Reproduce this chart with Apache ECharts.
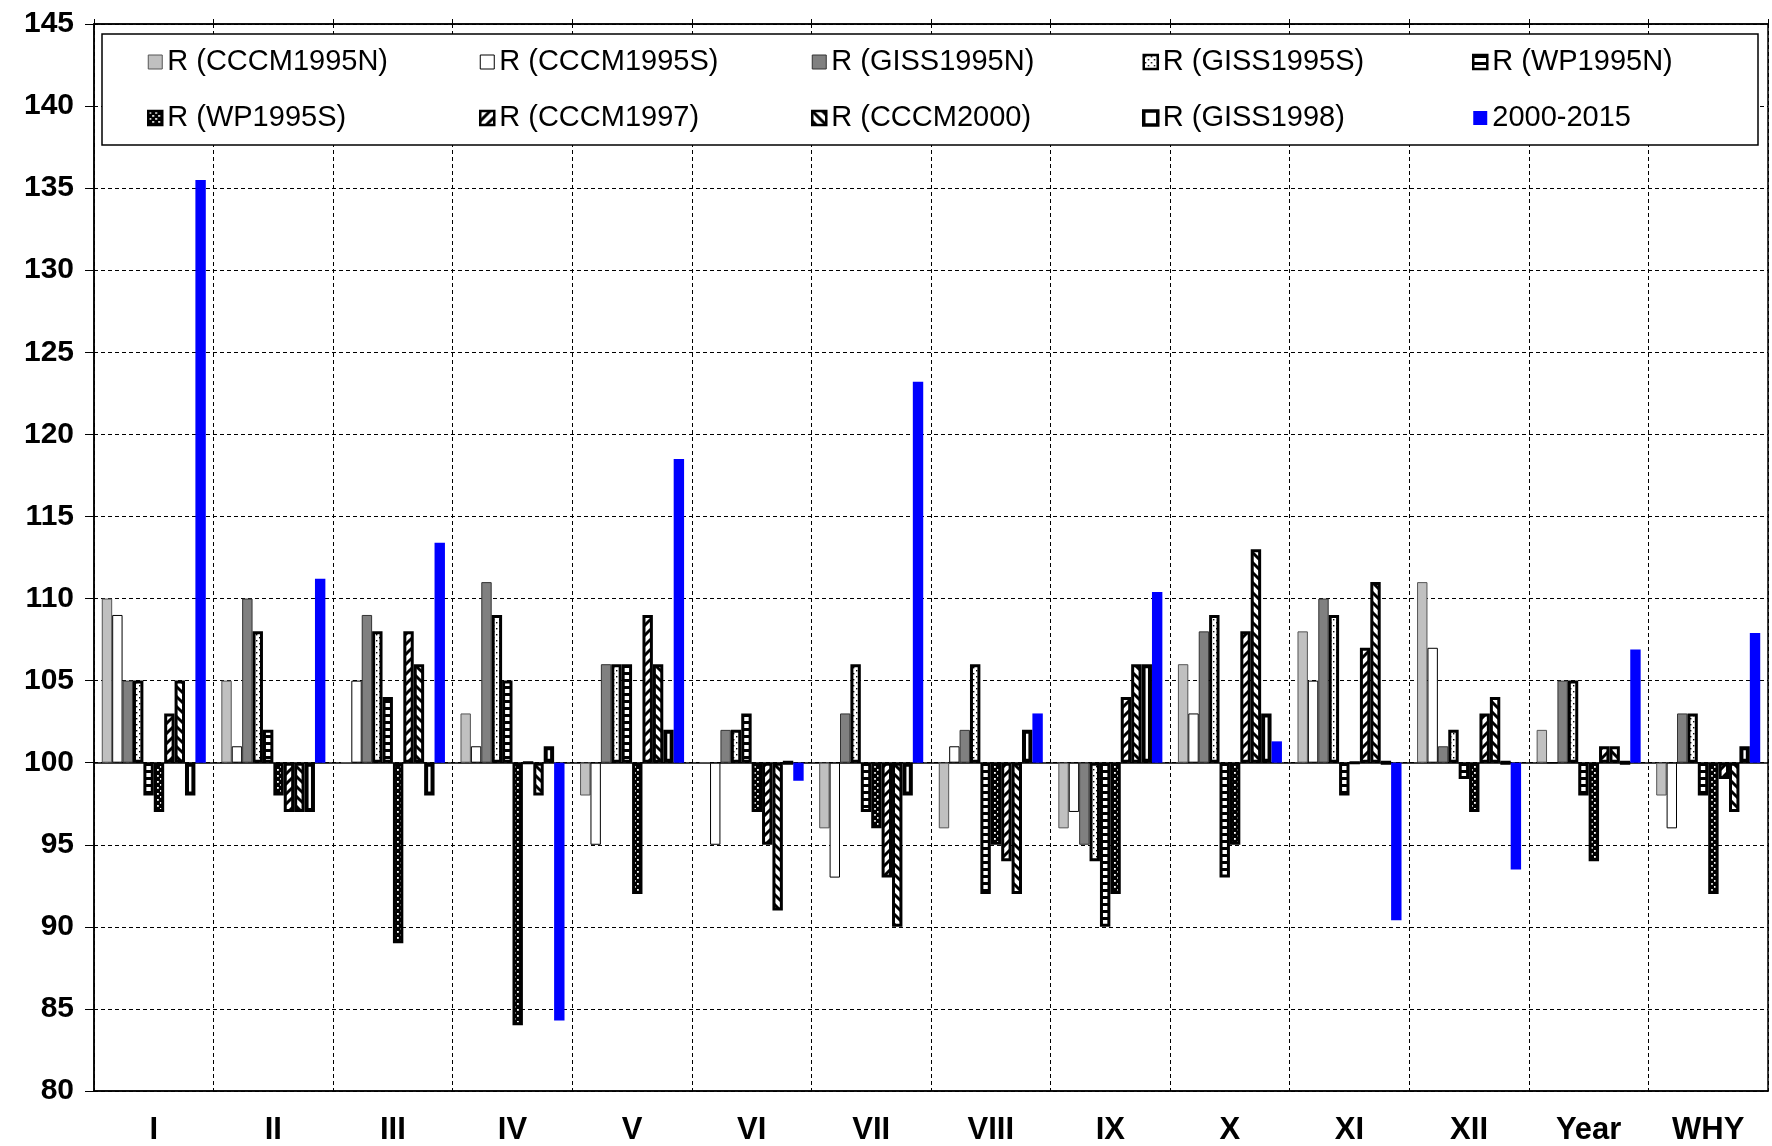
<!DOCTYPE html>
<html><head><meta charset="utf-8">
<script src="https://cdn.jsdelivr.net/npm/echarts@6/dist/echarts.min.js"></script>
<style>html,body{margin:0;padding:0;background:#fff}#c{width:1772px;height:1146px}</style>
</head><body><div id="c"></div>
<script>
// ---- data ----
const categories = ['I','II','III','IV','V','VI','VII','VIII','IX','X','XI','XII','Year','WHY'];
const seriesNames = ['R (CCCM1995N)','R (CCCM1995S)','R (GISS1995N)','R (GISS1995S)','R (WP1995N)',
                     'R (WP1995S)','R (CCCM1997)','R (CCCM2000)','R (GISS1998)','2000-2015'];
const cccm1995N = [110,105,100,103, 98,100, 96, 96, 96,106,108,111,102, 98];
const cccm1995S = [109,101,105,101, 95, 95, 93,101, 97,103,105,107,100, 96];
const giss1995N = [105,110,109,111,106,102,103,102, 95,108,110,101,105,103];
const giss1995S = [105,108,108,109,106,102,106,106, 94,109,109,102,105,103];
const wp1995N   = [ 98,102,104,105,106,103, 97, 92, 90, 93, 98, 99, 98, 98];
const wp1995S   = [ 97, 98, 89, 84, 92, 97, 96, 95, 92, 95,100, 97, 94, 92];
const cccm1997  = [103, 97,108,100,109, 95, 93, 94,104,108,107,103,101, 99];
const cccm2000  = [105, 97,106, 98,106, 91, 90, 92,106,113,111,104,101, 97];
const giss1998  = [ 98, 97, 98,101,102,100, 98,102,106,103,100,100,100,101];
const obs20002015 = [135.5,111.2,113.4,84.3,118.5,98.9,123.2,103.0,110.4,101.3,90.4,93.5,106.9,107.9];
const yMin = 80, yMax = 145, yStep = 5, baseLine = 100;
const legendColumns = [[0,5],[1,6],[2,7],[3,8],[4,9]];

// ---- patterns ----
function pat(w, h, bg, draw) {
  const c = document.createElement('canvas'); c.width = w; c.height = h;
  const g = c.getContext('2d'); g.fillStyle = bg; g.fillRect(0, 0, w, h); draw(g);
  return { image: c, repeat: 'repeat' };
}
const dotsFill = pat(6, 6, '#fff', g => { g.fillStyle = '#000'; g.fillRect(1, 1, 1.4, 1.4); g.fillRect(4, 4, 1.4, 1.4); });
const denseFill = pat(6, 6, '#000', g => { g.fillStyle = '#fff'; g.fillRect(1, 1, 1.8, 1.8); g.fillRect(4, 4, 1.8, 1.8); });
const hStripe = pat(4, 7, '#fff', g => { g.fillStyle = '#000'; g.fillRect(0, 0, 4, 3); });
const fwdDiag = pat(10, 10, '#fff', g => { g.strokeStyle = '#000'; g.lineWidth = 3; g.beginPath();
  g.moveTo(-2, 12); g.lineTo(12, -2); g.moveTo(-2, 2); g.lineTo(2, -2); g.moveTo(8, 12); g.lineTo(12, 8); g.stroke(); });
const backDiag = pat(10, 10, '#fff', g => { g.strokeStyle = '#000'; g.lineWidth = 3; g.beginPath();
  g.moveTo(-2, -2); g.lineTo(12, 12); g.moveTo(8, -2); g.lineTo(12, 2); g.moveTo(-2, 8); g.lineTo(2, 12); g.stroke(); });

const seriesData = [cccm1995N, cccm1995S, giss1995N, giss1995S, wp1995N, wp1995S, cccm1997, cccm2000, giss1998, obs20002015];
const styles = [
  { color: '#c0c0c0', borderColor: '#555', borderWidth: 1 },
  { color: '#ffffff', borderColor: '#000', borderWidth: 1 },
  { color: '#808080', borderColor: '#333', borderWidth: 1 },
  { color: dotsFill, borderColor: '#000', borderWidth: 3 },
  { color: hStripe, borderColor: '#000', borderWidth: 3 },
  { color: denseFill, borderColor: '#000', borderWidth: 3 },
  { color: fwdDiag, borderColor: '#000', borderWidth: 3 },
  { color: backDiag, borderColor: '#000', borderWidth: 3 },
  { color: '#ffffff', borderColor: '#000', borderWidth: 4 },
  { color: '#0000ff', borderColor: '#0000ff', borderWidth: 0 }
];
const legendBorder = [1, 1, 1, 2.5, 2.5, 2.5, 2.5, 2.5, 3.5, 0];

const FONT = '"Liberation Sans", Arial, sans-serif';
const chart = echarts.init(document.getElementById('c'), null, { renderer: 'canvas' });

const series = seriesData.map((arr, i) => ({
  name: seriesNames[i], type: 'bar', xAxisIndex: 0, yAxisIndex: 0,
  data: arr.map(v => +(v - baseLine).toFixed(2)),
  barGap: '0%', barCategoryGap: '13%',
  itemStyle: styles[i], emphasis: { disabled: true }, z: 2
}));

const legendX = [142, 474, 806, 1137, 1467];
const legends = legendColumns.map((col, k) => ({
  orient: 'vertical', left: legendX[k], top: 42, itemGap: 26, itemWidth: 14, itemHeight: 14,
  icon: 'rect', selectedMode: false, z: 6,
  data: col.map(i => ({ name: seriesNames[i],
    itemStyle: { borderWidth: legendBorder[i], borderColor: styles[i].borderColor } })),
  textStyle: { fontSize: 29, fontFamily: FONT, color: '#000', lineHeight: 30 }
}));

chart.setOption({
  animation: false,
  backgroundColor: '#fff',
  grid: { left: 94, right: 4, top: 24, bottom: 53, show: true, borderColor: '#000', borderWidth: 1.5, backgroundColor: 'transparent' },
  legend: legends,
  graphic: [{ type: 'rect', z: 5, shape: { x: 102, y: 34, width: 1656, height: 111 },
              style: { fill: '#fff', stroke: '#000', lineWidth: 1.5 } }],
  xAxis: [
    { type: 'category', data: categories, position: 'bottom',
      axisLine: { onZero: false, lineStyle: { color: '#000', width: 1.5 } },
      axisTick: { show: false },
      axisLabel: { interval: 0, fontSize: 31, fontWeight: 'bold', fontFamily: FONT, color: '#000', margin: 24 },
      splitLine: { show: true, interval: 0, lineStyle: { color: '#000', width: 1, type: [4, 3] } } },
    { type: 'category', data: categories, position: 'bottom',
      axisLine: { show: true, onZero: true, onZeroAxisIndex: 0, lineStyle: { color: '#000', width: 1.5 } },
      axisTick: { show: false }, axisLabel: { show: false }, splitLine: { show: false } },
    { type: 'category', data: categories, position: 'top',
      axisLine: { show: true, lineStyle: { color: '#000', width: 1.5 } },
      axisTick: { show: true, length: 5, interval: 0, lineStyle: { color: '#000' } },
      axisLabel: { show: false }, splitLine: { show: false } }
  ],
  yAxis: [{
    type: 'value', min: yMin - baseLine, max: yMax - baseLine, interval: yStep,
    axisLine: { show: true, onZero: false, lineStyle: { color: '#000', width: 1.5 } },
    axisTick: { show: true, length: 9, lineStyle: { color: '#000', width: 1 } },
    axisLabel: { formatter: v => String(v + baseLine), fontSize: 30, fontWeight: 'bold', fontFamily: FONT, color: '#000', margin: 20 },
    splitLine: { show: true, lineStyle: { color: '#000', width: 1, type: [4, 3] } }
  }],
  series: series
});
</script></body></html>
